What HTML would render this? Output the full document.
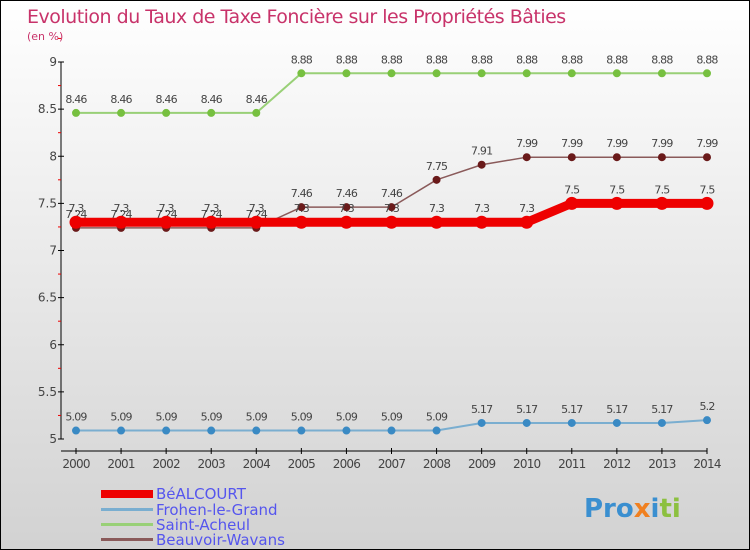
<!DOCTYPE html>
<html><head><meta charset="utf-8"><style>
body{margin:0}
#c{width:750px;height:550px;position:relative;box-sizing:border-box;border:1px solid #000;background:linear-gradient(#fff,#d2d2d2);font-family:"DejaVu Sans","Liberation Sans",sans-serif;overflow:hidden}
svg text{font-family:"DejaVu Sans","Liberation Sans",sans-serif}
</style></head><body>
<div id="c">
<svg id="s" width="750" height="550">
<text x="26" y="22" font-size="19" fill="#c8336a" letter-spacing="-0.5">Evolution du Taux de Taxe Foncière sur les Propriétés Bâties</text>
<text x="26" y="39" font-size="11" fill="#c8336a">(en %)</text>
<g id="ax"></g><g id="ser"></g>
<g font-size="15" fill="#5555ee">
<rect x="100" y="489" width="52" height="8" fill="#e00"/>
<text x="155" y="498">BéALCOURT</text>
<rect x="100" y="507" width="52" height="3" fill="#7aaed0"/>
<text x="155" y="514">Frohen-le-Grand</text>
<rect x="100" y="522" width="52" height="3" fill="#99d077"/>
<text x="155" y="529">Saint-Acheul</text>
<rect x="100" y="537" width="52" height="3" fill="#8a5a5a"/>
<text x="155" y="544">Beauvoir-Wavans</text>
</g>
<g font-size="26" font-weight="bold">
<text x="583" y="516"><tspan fill="#3a8fd0">Pro</tspan><tspan fill="#f08020">x</tspan><tspan fill="#3a8fd0">i</tspan><tspan fill="#8cc040">ti</tspan></text>
</g>
</svg>
</div>
<script>
const years=[2000,2001,2002,2003,2004,2005,2006,2007,2008,2009,2010,2011,2012,2013,2014];
const yTicks=[5,5.5,6,6.5,7,7.5,8,8.5,9];
const bealcourt=[7.3,7.3,7.3,7.3,7.3,7.3,7.3,7.3,7.3,7.3,7.3,7.5,7.5,7.5,7.5];
const frohen=[5.09,5.09,5.09,5.09,5.09,5.09,5.09,5.09,5.09,5.17,5.17,5.17,5.17,5.17,5.2];
const saintAcheul=[8.46,8.46,8.46,8.46,8.46,8.88,8.88,8.88,8.88,8.88,8.88,8.88,8.88,8.88,8.88];
const beauvoir=[7.24,7.24,7.24,7.24,7.24,7.46,7.46,7.46,7.75,7.91,7.99,7.99,7.99,7.99,7.99];
const NS="http://www.w3.org/2000/svg";
const X=i=>75+i*(706-75)/(years.length-1);
const Y=v=>438-(v-5)*(438-61)/4;
function mk(p,t,a){const e=document.createElementNS(NS,t);for(const k in a)e.setAttribute(k,a[k]);p.appendChild(e);return e;}
const ax=document.getElementById('ax'),ser=document.getElementById('ser');
let l=mk(ax,'line',{x1:60,y1:61,x2:60,y2:438,stroke:'#000'});


l=mk(ax,'line',{x1:60,y1:450,x2:706,y2:450,stroke:'#000'});


yTicks.forEach(v=>{mk(ax,'line',{x1:57,x2:63,y1:Y(v),y2:Y(v),stroke:'#000'});
 const m=mk(ax,'line',{x1:57,x2:60,y1:Y(v+0.25),y2:Y(v+0.25),stroke:'#e00'});
 const t=mk(ax,'text',{x:56,y:Y(v)+4,'text-anchor':'end','font-size':12,fill:'#444'});t.textContent=String(v);
 
 });
years.forEach((y,i)=>{mk(ax,'line',{x1:X(i),x2:X(i),y1:447,y2:453,stroke:'#000'});
 const t=mk(ax,'text',{x:X(i),y:467,'text-anchor':'middle','font-size':12,fill:'#444','letter-spacing':'-0.8'});t.textContent=y;
 
 });
function series(d,name,col,w,r,dot){
 const g=mk(ser,'g',{});
 
 
 mk(g,'polyline',{points:d.map((v,i)=>X(i)+','+Y(v)).join(' '),fill:'none',stroke:col,'stroke-width':w,'stroke-linejoin':'round'});
 d.forEach((v,i)=>{const c=mk(g,'circle',{cx:X(i),cy:Y(v),r:r,fill:dot,stroke:dot});
  
  
  const t=mk(g,'text',{x:X(i),y:Y(v)-10,'text-anchor':'middle','font-size':11,fill:'#444','letter-spacing':'-0.8'});t.textContent=String(v);
  
  });
}
series(frohen,'frohen','#7aaed0',2,3.5,'#3a8ac4');
series(saintAcheul,'saint-acheul','#99d077',2,3.5,'#77c040');
series(beauvoir,'beauvoir','#8a5a5a',1.5,3.5,'#6a1a1a');
series(bealcourt,'bealcourt','#ee0000',9,6,'#ee0000');
</script>
</body></html>
